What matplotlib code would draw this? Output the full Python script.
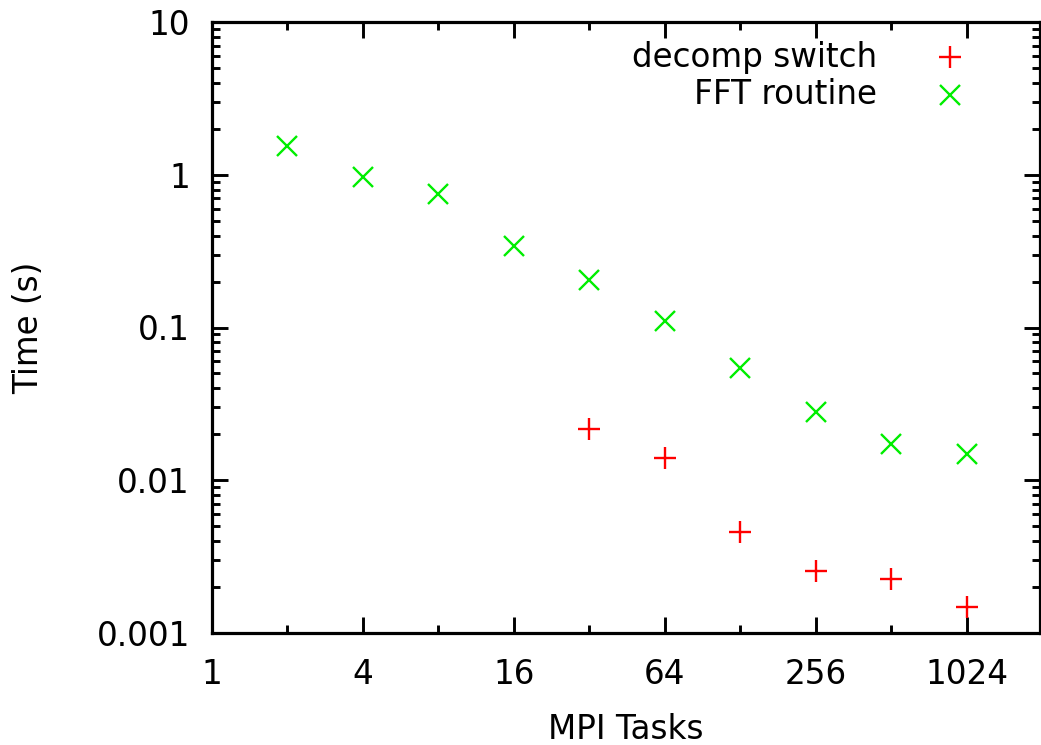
import matplotlib
matplotlib.use("Agg")
import matplotlib.pyplot as plt
from matplotlib.ticker import FixedLocator, NullFormatter, LogLocator

tasks_fft = [2, 4, 8, 16, 32, 64, 128, 256, 512, 1024]
fft_time = [1.55, 0.96, 0.75, 0.34, 0.205, 0.111, 0.054, 0.0278, 0.0172, 0.0148]
tasks_dec = [32, 64, 128, 256, 512, 1024]
dec_time = [0.0215, 0.0139, 0.00457, 0.00254, 0.00226, 0.00147]
xticks = [1, 4, 16, 64, 256, 1024]
xtick_labels = ["1", "4", "16", "64", "256", "1024"]
yticks = [0.001, 0.01, 0.1, 1, 10]
ytick_labels = ["0.001", "0.01", "0.1", "1", "10"]

FS = 23.5
plt.rcParams['font.family'] = ['DejaVu Sans']
fig = plt.figure(figsize=(10.41, 7.45), dpi=100)
ax = fig.add_axes([212/1041, 1-633/745, (1039.5-212)/1041, (633-22)/745])

ax.set_xscale('log', base=2)
ax.set_yscale('log')
ax.set_xlim(1, 2000)
ax.set_ylim(0.001, 10)

ax.plot(tasks_dec, dec_time, linestyle='none', marker='+', ms=16, mew=1.7, color='#ff0000', clip_on=False)
ax.plot(tasks_fft, fft_time, linestyle='none', marker='x', ms=14, mew=1.7, color='#00ee00', clip_on=False)

ax.xaxis.set_major_locator(FixedLocator(xticks))
ax.set_xticklabels(xtick_labels)
ax.xaxis.set_minor_locator(FixedLocator([2, 8, 32, 128, 512]))
ax.xaxis.set_minor_formatter(NullFormatter())
ax.yaxis.set_major_locator(FixedLocator(yticks))
ax.set_yticklabels(ytick_labels)
ax.yaxis.set_minor_locator(LogLocator(base=10, subs=range(2, 10), numticks=20))
ax.yaxis.set_minor_formatter(NullFormatter())

for s in ax.spines.values():
    s.set_linewidth(2.3)
ax.tick_params(which='both', direction='in', top=True, right=True, width=2.1, labelsize=FS, colors='black')
ax.tick_params(which='major', length=11.5)
ax.tick_params(which='minor', length=5.8)
ax.tick_params(axis='x', which='major', pad=18)
ax.tick_params(axis='y', which='major', pad=16)

ax.set_xlabel('MPI Tasks', fontsize=FS, labelpad=16)
ax.set_ylabel('Time (s)', fontsize=FS, labelpad=37)

# legend (gnuplot style: right-justified text, sample to the right)
tx = (877-212)/(1039.5-212)
mx = (950-212)/(1039.5-212)
y1 = (633-57)/(633-22)
y2 = (633-95)/(633-22)
ax.text(tx, y1, 'decomp switch', transform=ax.transAxes, ha='right', va='center', fontsize=FS)
ax.text(tx, y2, 'FFT routine', transform=ax.transAxes, ha='right', va='center', fontsize=FS)
ax.plot([mx], [y1], transform=ax.transAxes, linestyle='none', marker='+', ms=16, mew=1.7, color='#ff0000', clip_on=False)
ax.plot([mx], [y2], transform=ax.transAxes, linestyle='none', marker='x', ms=14, mew=1.7, color='#00ee00', clip_on=False)

fig.savefig('out.png', dpi=100)
